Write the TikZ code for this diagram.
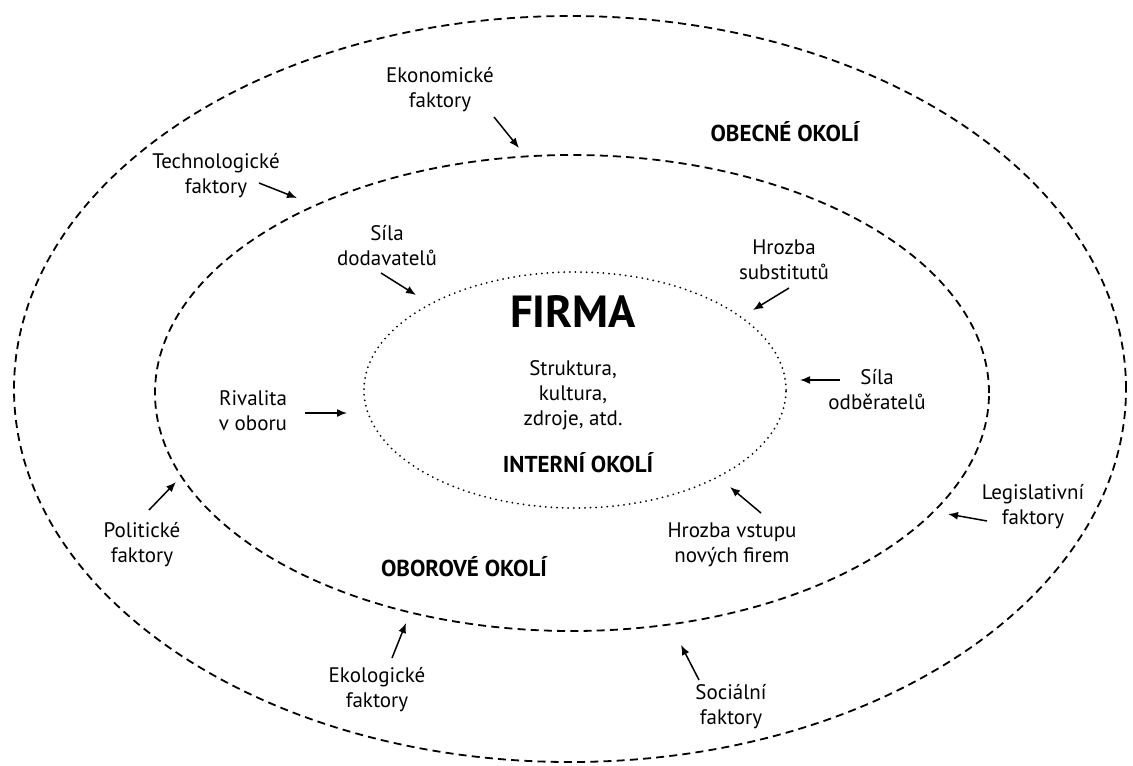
\documentclass[tikz,border=0pt]{standalone}
\usepackage{fontspec}
\setmainfont{PT Sans}
\usetikzlibrary{arrows.meta,shapes.geometric}

\begin{document}
\begin{tikzpicture}[x=0.5pt, y=-0.5pt, >={Latex[length=5pt,width=4pt]},
    ring/.style={ellipse, draw, line width=0.9pt, dash pattern=on 4pt off 2.6pt, inner sep=0pt},
    core/.style={ellipse, draw, line width=1pt, line cap=round, dash pattern=on 0pt off 2.8pt, inner sep=0pt},
    factor/.style={align=center, font=\fontsize{10.5}{12.5}\selectfont},
    envtitle/.style={font=\fontsize{11.5}{13}\selectfont\bfseries},
    force/.style={->, line width=0.75pt}]
    \useasboundingbox (0,0) rectangle (1133,765);

    % the three environments
    \node[ring, minimum width=556pt, minimum height=373pt] (obecne) at (570,389) {};
    \node[ring, minimum width=417pt, minimum height=238pt] (oborove) at (572,393) {};
    \node[core, minimum width=211pt, minimum height=118pt] (interni) at (575,390) {};

    \node[envtitle] (obecneT) at (785,132) {OBECNÉ OKOLÍ};
    \node[envtitle] (oboroveT) at (464,567) {OBOROVÉ OKOLÍ};
    \node[envtitle] (interniT) at (578,463) {INTERNÍ OKOLÍ};
    \node[font=\fontsize{22.5}{26}\selectfont\bfseries] (firma) at (573,312) {FIRMA};
    \node[factor] (struktura) at (573,395) {Struktura,\\kultura,\\zdroje, atd.};

    % general factors
    \node[factor] (ekon) at (440,90) {Ekonomické\\faktory};
    \node[factor] (tech) at (216,176) {Technologické\\faktory};
    \node[factor] (legis) at (1033,507) {Legislativní\\faktory};
    \node[factor] (polit) at (142,545) {Politické\\faktory};
    \node[factor] (ekol) at (377,690) {Ekologické\\faktory};
    \node[factor] (soc) at (731,707) {Sociální\\faktory};

    % industry forces
    \node[factor] (dodav) at (387,246) {Síla\\dodavatelů};
    \node[factor] (subst) at (784,260) {Hrozba\\substitutů};
    \node[factor] (rival) at (253,411) {Rivalita\\v oboru};
    \node[factor] (odber) at (877,390) {Síla\\odběratelů};
    \node[factor] (vstup) at (732,545) {Hrozba vstupu\\nových firem};

    \coordinate (ekonA) at (494,117);  \coordinate (ekonB) at (519,148);
    \coordinate (techA) at (259,183);  \coordinate (techB) at (297,198);
    \coordinate (legisA) at (987,521); \coordinate (legisB) at (948,514);
    \coordinate (politA) at (149,510); \coordinate (politB) at (176,482);
    \coordinate (ekolA) at (392,658);  \coordinate (ekolB) at (406,623);
    \coordinate (socA) at (699,680);   \coordinate (socB) at (681,645);
    \coordinate (dodavA) at (381,273); \coordinate (dodavB) at (416,295);
    \coordinate (substA) at (789,288); \coordinate (substB) at (753,310);
    \coordinate (rivalA) at (305,413); \coordinate (rivalB) at (347,413);
    \coordinate (odberA) at (840,380); \coordinate (odberB) at (800,380);
    \coordinate (vstupA) at (761,513); \coordinate (vstupB) at (730,487);

    \foreach \f in {ekon,tech,legis,polit,ekol,soc,dodav,subst,rival,odber,vstup}
        \draw[force] (\f A) -- (\f B);
\end{tikzpicture}
\end{document}
